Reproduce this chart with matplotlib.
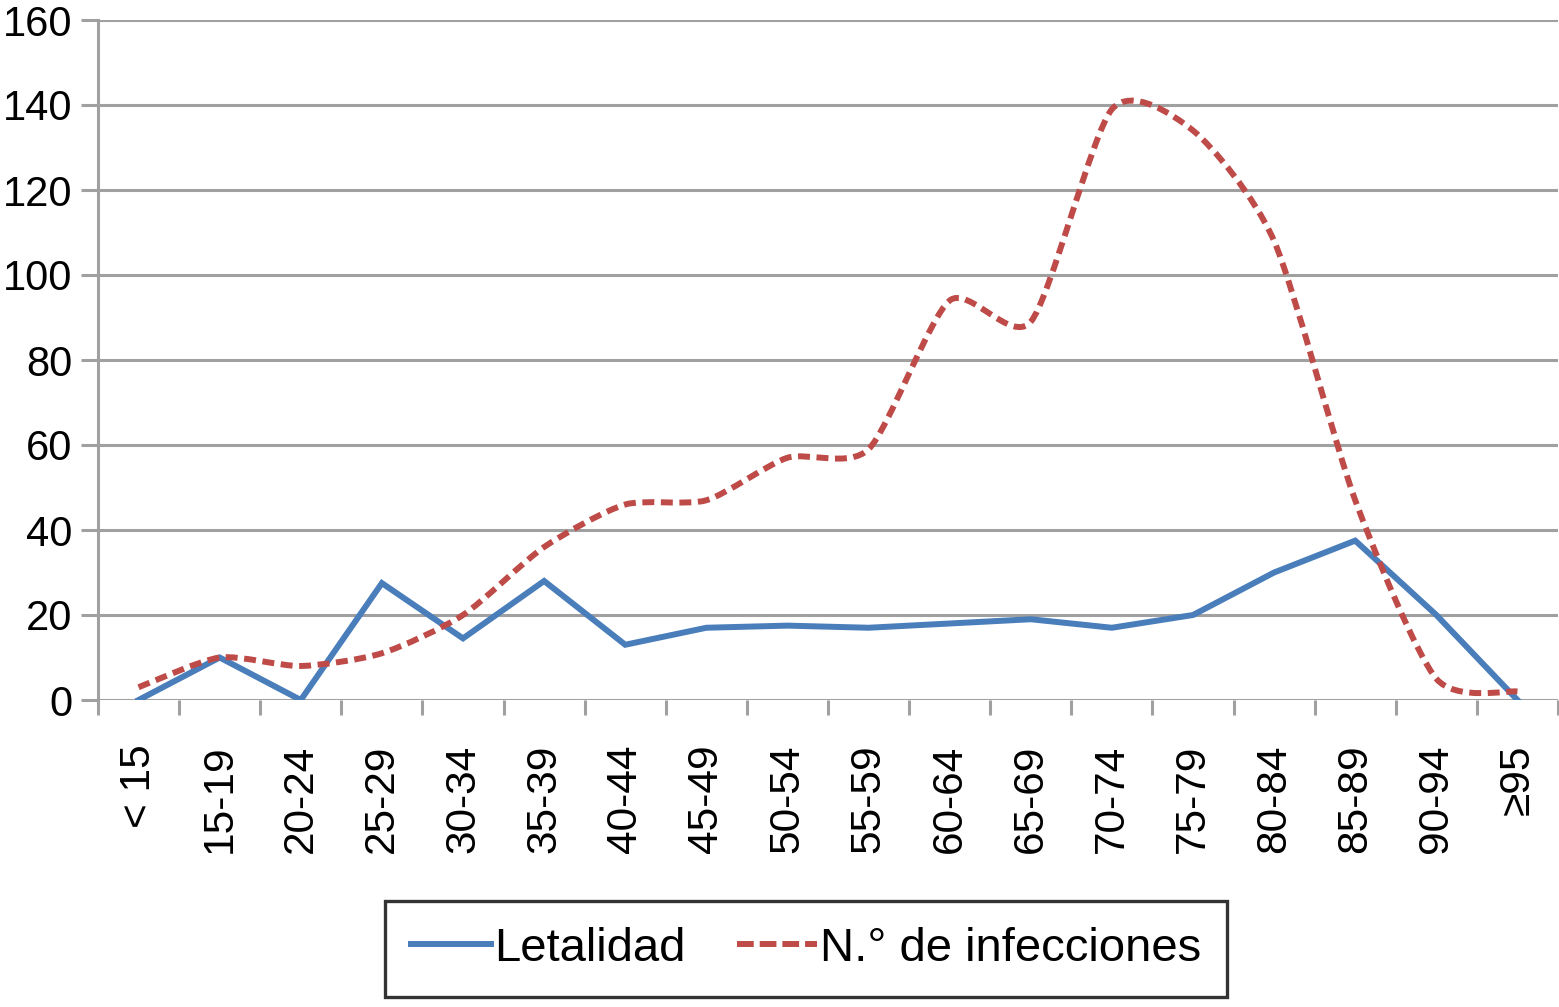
import numpy as np
import matplotlib.pyplot as plt
from matplotlib.path import Path
from matplotlib.patches import PathPatch
from matplotlib.lines import Line2D

plt.rcParams['font.family'] = ['Liberation Sans', 'DejaVu Sans']

grupos = ['< 15', '15-19', '20-24', '25-29', '30-34', '35-39', '40-44', '45-49',
          '50-54', '55-59', '60-64', '65-69', '70-74', '75-79', '80-84', '85-89',
          '90-94', '≥95']
letalidad = [0, 10, 0, 27.5, 14.5, 28, 13, 17, 17.5, 17, 18, 19, 17, 20, 30, 37.5, 20, 0]
infecciones = [3, 10, 8, 11, 20, 36, 46, 47, 57, 59, 94, 89, 139, 134, 108, 47, 5, 2]

azul = '#4a7ebb'
rojo = '#be4b48'
gris = '#a0a0a0'

fig = plt.figure(figsize=(15.59, 10.07), dpi=100)
ax = fig.add_axes([98 / 1559, 1 - 700 / 1007, 1460 / 1559, 680 / 1007])

x = np.arange(len(grupos))
ax.plot(x, letalidad, color=azul, lw=4.3, solid_joinstyle='miter', zorder=3)


# smoothed line for infecciones (bezier through the data points)
def smooth_path(xs, ys, k=0.12):
    pts = np.column_stack([xs, ys]).astype(float)
    verts = [pts[0]]
    codes = [Path.MOVETO]
    n = len(pts)
    for i in range(n - 1):
        p0 = pts[max(i - 1, 0)]
        p1 = pts[i]
        p2 = pts[i + 1]
        p3 = pts[min(i + 2, n - 1)]
        c1 = p1 + (p2 - p0) * k
        c2 = p2 - (p3 - p1) * k
        verts += [c1, c2, p2]
        codes += [Path.CURVE4] * 3
    return Path(verts, codes)


patch = PathPatch(smooth_path(x, infecciones), fill=False, edgecolor=rojo, lw=4.3,
                  linestyle=(0, (2.0, 1.1)), zorder=4)
ax.add_patch(patch)

ax.set_xlim(-0.5, len(grupos) - 0.5)
ax.set_ylim(0, 160)
ax.set_yticks(range(0, 161, 20))
ax.yaxis.grid(True, color=gris, lw=2.2)
ax.set_axisbelow(True)

for s in ['top', 'right', 'bottom']:
    ax.spines[s].set_visible(False)
ax.spines['left'].set_color(gris)
ax.spines['left'].set_linewidth(2.2)

ax.set_xticks(x)
ax.set_xticklabels(grupos, rotation=90, va='top', ha='center')
ax.set_xticks(np.arange(-0.5, len(grupos)), minor=True)
ax.tick_params(axis='x', which='major', length=0, pad=32, labelsize=30.5)
ax.tick_params(axis='x', which='minor', length=11, width=2.2, color=gris)
ax.tick_params(axis='y', length=12, width=2.2, color=gris, pad=6.5, labelsize=30)

h1 = Line2D([], [], color=azul, lw=4.3)
h2 = Line2D([], [], color=rojo, lw=4.3, linestyle=(0, (2.8, 1.0)))
leg = fig.legend([h1, h2], ['Letalidad', 'N.° de infecciones'], loc='center',
                 bbox_to_anchor=(0.517, 0.0576), ncol=2, fontsize=34, frameon=True,
                 fancybox=False, handlelength=1.7, handletextpad=0.05, columnspacing=1.1,
                 borderpad=0.55, borderaxespad=0)
leg.get_frame().set_edgecolor('black')
leg.get_frame().set_linewidth(2.4)

fig.savefig('out.png', dpi=100)
